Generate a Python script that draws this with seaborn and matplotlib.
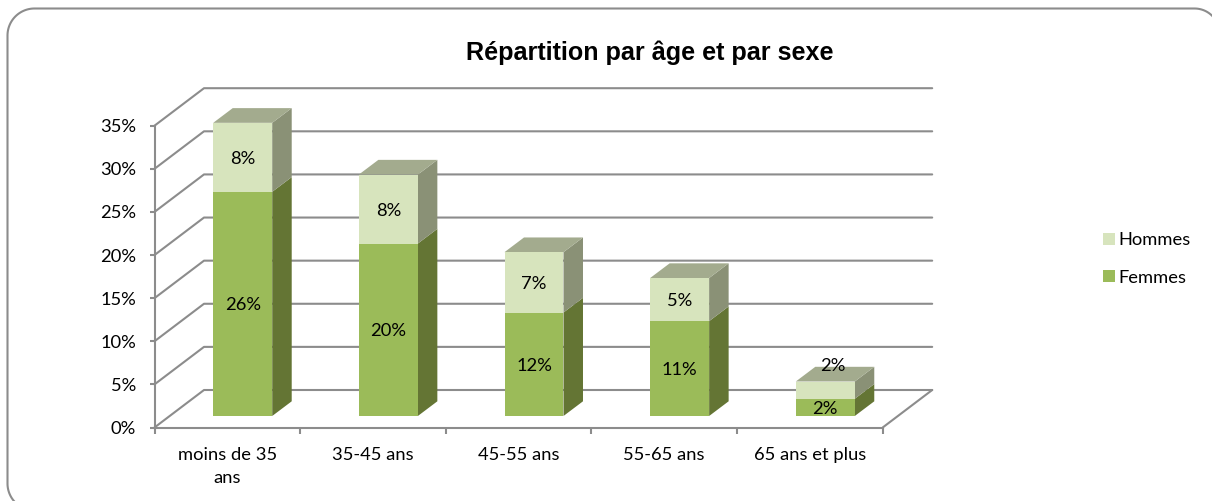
import numpy as np
import seaborn as sns
import matplotlib.pyplot as plt
from matplotlib.lines import Line2D
from matplotlib.patches import Polygon

ages = ['moins de 35\nans', '35-45 ans', '45-55 ans', '55-65 ans', '65 ans et plus']
femmes = [26, 20, 12, 11, 2]
hommes = [8, 8, 7, 5, 2]
y_ticks = [0, 5, 10, 15, 20, 25, 30, 35]

W, H = 1212, 501
GREY = '#8c8c8c'
FS = 13.2
px_x = 145.64   # pixels par categorie
px_y = 8.623    # pixels par %

sns.set_theme(style='white')
plt.rcParams['font.family'] = ['Lato', 'DejaVu Sans']

fig = plt.figure(figsize=(W / 100, H / 100), dpi=100)
ax = fig.add_axes([154.5 / W, (H - 427.5) / H, 728.2 / W, 301.8 / H])

# barres : le total d'abord, les femmes par dessus
totals = [f + h for f, h in zip(femmes, hommes)]
sns.barplot(x=ages, y=totals, color='#d7e4bd', saturation=1, width=0.405,
            ax=ax, label='Hommes', zorder=4, linewidth=0)
sns.barplot(x=ages, y=femmes, color='#9bbb59', saturation=1, width=0.405,
            ax=ax, label='Femmes', zorder=5, linewidth=0)
ax.get_legend().remove()
ax.set_xlim(-0.5, 4.5)
ax.set_ylim(0, 35)

# mur du fond et sol
wall_dx, wall_dy = 49.5 / px_x, 37.5 / px_y
for v in y_ticks:
    ax.plot([-0.5, -0.5 + wall_dx, 4.5 + wall_dx], [v, v + wall_dy, v + wall_dy],
            color=GREY, lw=1.5, clip_on=False, zorder=1)
ax.plot([4.5, 4.5 + wall_dx], [0, wall_dy], color=GREY, lw=1.5, clip_on=False, zorder=1)

# faces 3D des barres
shift_x, shift_y = 15.4 / px_x, 11.5 / px_y
dx, dy = 19.5 / px_x, 14.7 / px_y
top_bars = ax.containers[0]
low_bars = ax.containers[1]
label_nudge = [(0, 0), (0, 0), (0, 0), (0, 0), (8, 26)]
for i, (tb, lb) in enumerate(zip(top_bars, low_bars)):
    for b in (tb, lb):
        b.set_x(b.get_x() + shift_x)
        b.set_y(b.get_y() + shift_y)
        b.set_clip_on(False)
    l = tb.get_x()
    r = l + tb.get_width()
    b0 = tb.get_y()
    mid = b0 + lb.get_height()
    t = b0 + tb.get_height()
    side_low = [(r, b0), (r + dx, b0 + dy), (r + dx, mid + dy), (r, mid)]
    side_up = [(r, mid), (r + dx, mid + dy), (r + dx, t + dy), (r, t)]
    top = [(l, t), (l + dx, t + dy), (r + dx, t + dy), (r, t)]
    ax.add_patch(Polygon(side_low, fc='#647534', ec='none', clip_on=False, zorder=3))
    ax.add_patch(Polygon(side_up, fc='#8a9176', ec='none', clip_on=False, zorder=3))
    ax.add_patch(Polygon(top, fc='#a3ab8e', ec='none', clip_on=False, zorder=3))

    cx = (l + r) / 2
    nx, ny = label_nudge[i]
    ax.text(cx, (b0 + mid) / 2, f'{femmes[i]}%', ha='center', va='center_baseline',
            fontsize=FS, color='black', zorder=6)
    ax.text(cx + nx / px_x, (mid + t) / 2 + ny / px_y, f'{hommes[i]}%', ha='center',
            va='center_baseline', fontsize=FS, color='black', zorder=6)

# axes
for s in ['top', 'right']:
    ax.spines[s].set_visible(False)
for s in ['left', 'bottom']:
    ax.spines[s].set_color(GREY)
    ax.spines[s].set_linewidth(1.5)
    ax.spines[s].set_zorder(2)
ax.set_yticks(y_ticks)
ax.set_yticklabels([f'{v}%' for v in y_ticks], va='center_baseline')
ax.tick_params(axis='y', left=True, length=3.6, width=1.5, color=GREY, pad=9.7,
               labelsize=FS, labelcolor='black')
ax.set_xticks(range(len(ages)))
ax.set_xticklabels(ages, linespacing=1.55)
ax.tick_params(axis='x', bottom=False, pad=7.7, labelsize=FS, labelcolor='black')
ax.set_xticks([i - 0.5 for i in range(len(ages) + 1)], minor=True)
ax.tick_params(axis='x', which='minor', bottom=True, length=4, width=1.5, color=GREY)

# legende
handles, labels = ax.get_legend_handles_labels()
fig.legend(handles, labels, loc='center left', frameon=False,
           bbox_to_anchor=(1086 / W, 1 - 259 / H), fontsize=FS,
           handlelength=0.66, handleheight=0.66, handletextpad=0.22, labelspacing=1.15,
           labelcolor='black')

fig.text(650 / W, 1 - 53 / H, 'Répartition par âge et par sexe', ha='center', va='center',
         fontsize=18.1, fontweight='bold', color='black', family='Liberation Sans')

# cadre arrondi (coupe par le bord de l'image)
a = np.linspace(0, np.pi / 2, 30)
fx = np.r_[34 - 27 * np.cos(a[::-1] * 0.75), 34 - 27 * np.cos(a), 1194 + 25 * np.sin(a)]
fy = np.r_[483 + 27 * np.sin(a[::-1] * 0.75), 35 - 27 * np.sin(a), 33 - 25 * np.cos(a)]
fig.add_artist(Line2D(fx + 0.5, H - fy - 0.5, color=GREY, lw=1.5, transform=None))

fig.savefig('out.png', dpi=100)
